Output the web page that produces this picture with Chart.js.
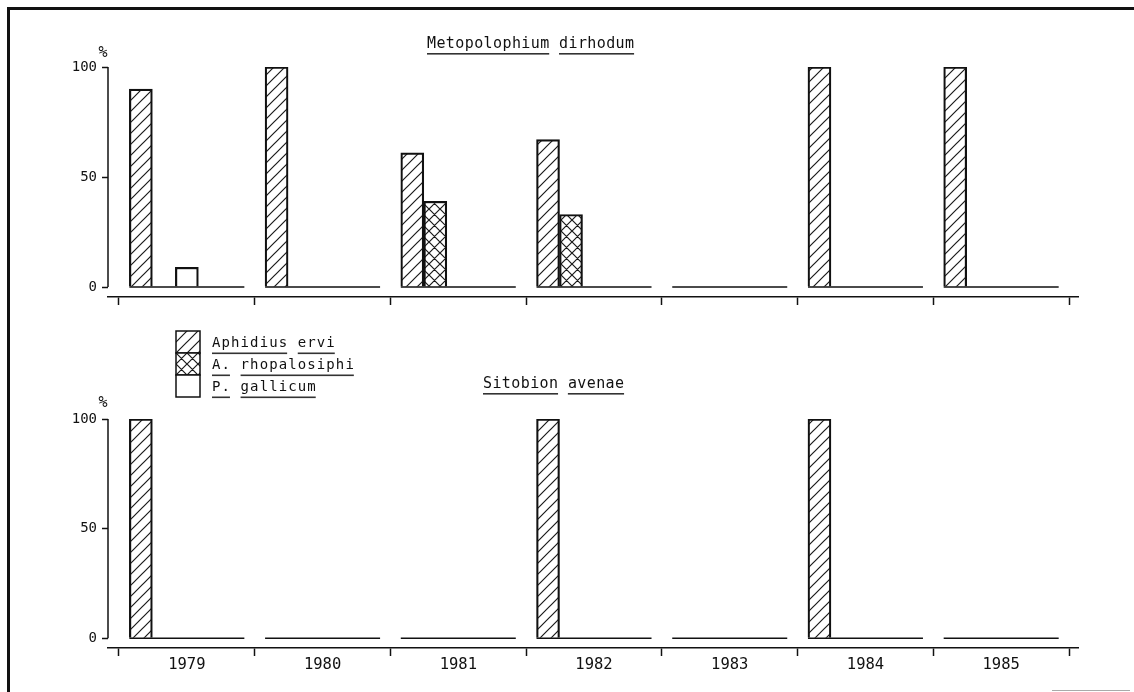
<!DOCTYPE html>
<html>
<head>
<meta charset="utf-8">
<script src="https://cdn.jsdelivr.net/npm/chart.js@4.4.1/dist/chart.umd.min.js"></script>
<style>
  html, body { margin: 0; padding: 0; background: #fff; }
  #page { position: relative; width: 1134px; height: 692px; overflow: hidden; background: #fff; }
  #frame { position: absolute; left: 7px; top: 7px; width: 1200px; height: 760px;
           border-top: 3px solid #111; border-left: 3px solid #111; }
  #edge { position: absolute; left: 1052px; top: 690px; width: 78px; height: 1px; background: #aaa; }
  canvas { position: absolute; left: 0; }
  #cTop { top: 0; }
  #cBottom { top: 320px; }
</style>
</head>
<body>
<div id="page">
  <div id="frame"></div>
  <div id="edge"></div>
  <canvas id="cTop" width="1134" height="320"></canvas>
  <canvas id="cBottom" width="1134" height="372"></canvas>
</div>
<script>
// Years sampled and the three parasitoid species
const years = ['1979', '1980', '1981', '1982', '1983', '1984', '1985'];
const parasitoids = ['Aphidius ervi', 'A. rhopalosiphi', 'P. gallicum'];
const panelTitles = ['Metopolophium dirhodum', 'Sitobion avenae'];
const yTicks = [0, 50, 100];

// Share (%) of each parasitoid reared from Metopolophium dirhodum
const dirhodumErvi         = [90, 100, 61, 67, 0, 100, 100];
const dirhodumRhopalosiphi = [0, 0, 39, 33, 0, 0, 0];
const dirhodumGallicum     = [9, 0, 0, 0, 0, 0, 0];

// Share (%) of each parasitoid reared from Sitobion avenae
const avenaeErvi         = [100, 0, 0, 100, 0, 100, 0];
const avenaeRhopalosiphi = [0, 0, 0, 0, 0, 0, 0];
const avenaeGallicum     = [0, 0, 0, 0, 0, 0, 0];

const INK = '#111';
const MONO = '"DejaVu Sans Mono", "Liberation Mono", monospace';

// Fill patterns: single diagonal hatch and cross hatch
function makePattern(ctx, cross) {
  const s = 11;
  const tile = document.createElement('canvas');
  tile.width = s; tile.height = s;
  const g = tile.getContext('2d');
  g.fillStyle = '#fff';
  g.fillRect(0, 0, s, s);
  g.strokeStyle = '#1a1a1a';
  g.lineWidth = 1.2;
  g.beginPath();
  g.moveTo(-1, s + 1); g.lineTo(s + 1, -1);
  g.moveTo(-1, 1); g.lineTo(1, -1);
  g.moveTo(s - 1, s + 1); g.lineTo(s + 1, s - 1);
  if (cross) {
    g.moveTo(-1, -1); g.lineTo(s + 1, s + 1);
    g.moveTo(s - 1, -1); g.lineTo(s + 1, 1);
    g.moveTo(-1, s - 1); g.lineTo(1, s + 1);
  }
  g.stroke();
  return ctx.createPattern(tile, 'repeat');
}

function underlinedText(ctx, text, x, baseline, font, spacing, gap) {
  ctx.font = font;
  ctx.letterSpacing = spacing + 'px';
  ctx.textAlign = 'left';
  ctx.textBaseline = 'alphabetic';
  ctx.fillStyle = INK;
  const space = ctx.measureText(' ').width;
  for (const word of text.split(' ')) {
    const w = ctx.measureText(word).width;
    ctx.fillText(word, x, baseline);
    ctx.fillStyle = '#333';
    ctx.fillRect(x, baseline + gap, w - spacing, 1.6);
    ctx.fillStyle = INK;
    x += w + space;
  }
  ctx.letterSpacing = '0px';
}

// Axis line, per-year baselines, titles and key
const panelDecor = {
  id: 'panelDecor',
  afterDatasetsDraw(chart, args, opts) {
    const { ctx, chartArea } = chart;
    const y = chart.scales.y;
    const y0 = y.getPixelForValue(0);
    const yTop = y.getPixelForValue(yTicks[yTicks.length - 1]);
    ctx.save();
    ctx.strokeStyle = INK;
    ctx.lineWidth = 1.5;

    // value axis only spans 0..100
    ctx.beginPath();
    ctx.moveTo(chartArea.left, yTop);
    ctx.lineTo(chartArea.left, y0);
    ctx.stroke();

    // baseline under each year's group of bars
    const first = chart.getDatasetMeta(0).data;
    const last = chart.getDatasetMeta(chart.data.datasets.length - 1).data;
    ctx.beginPath();
    for (let i = 0; i < years.length; i++) {
      const a = first[i], b = last[i];
      ctx.moveTo(a.x - a.width / 2, y0);
      ctx.lineTo(b.x + b.width / 2, y0);
    }
    ctx.stroke();

    // percent sign above the value axis
    ctx.font = '15px ' + MONO;
    ctx.fillStyle = INK;
    ctx.textAlign = 'center';
    ctx.textBaseline = 'middle';
    ctx.fillText('%', chartArea.left - 5, yTop - opts.pctGap);

    underlinedText(ctx, opts.title, opts.titleX, opts.titleY, '15px ' + MONO, 0.4, 5);

    if (opts.key) {
      const bx = 176, bw = 24, bh = 22, top = opts.keyTop;
      for (let k = 0; k < parasitoids.length; k++) {
        const ds = chart.data.datasets[k];
        const by = top + k * bh;
        ctx.fillStyle = ds.backgroundColor;
        ctx.fillRect(bx, by, bw, bh);
        ctx.strokeStyle = INK;
        ctx.lineWidth = 1.5;
        ctx.strokeRect(bx, by, bw, bh);
        underlinedText(ctx, parasitoids[k], 212, by + 11 + 4.5, '14px ' + MONO, 1.1, 6);
      }
    }
    ctx.restore();
  }
};

function buildChart(canvasId, series, cfg) {
  const canvas = document.getElementById(canvasId);
  const ctx = canvas.getContext('2d');
  const fills = [makePattern(ctx, false), makePattern(ctx, true), '#fff'];
  const datasets = series.map((vals, k) => ({
    label: parasitoids[k],
    data: vals.map((v, i) => ({ x: i, y: v })),
    backgroundColor: fills[k],
    borderColor: INK,
    borderWidth: 2.2,
    borderSkipped: 'start'
  }));
  // two empty slots keep each year's group left-aligned with room to the right
  for (let s = 0; s < 2; s++) {
    datasets.push({
      label: 'slot' + s,
      data: years.map((_, i) => ({ x: i, y: null })),
      backgroundColor: 'rgba(0,0,0,0)',
      borderWidth: 0
    });
  }

  const boundaryTicks = [];
  for (let i = 0; i <= years.length; i++) boundaryTicks.push(i - 0.5);
  const centerTicks = years.map((_, i) => i);

  return new Chart(ctx, {
    type: 'bar',
    data: { datasets },
    plugins: [panelDecor],
    options: {
      responsive: false,
      animation: false,
      devicePixelRatio: 1,
      barThickness: 23,
      layout: { padding: { top: cfg.padTop, right: 56, left: 0, bottom: 0 } },
      plugins: {
        legend: { display: false },
        tooltip: { enabled: false },
        panelDecor: cfg.decor
      },
      scales: {
        x: {
          type: 'linear',
          offset: false,
          min: -0.5 - 0.081,
          max: years.length - 0.5 + 0.066,
          afterBuildTicks: (s) => {
            s.ticks = boundaryTicks.concat(centerTicks).sort((a, b) => a - b).map(v => ({ value: v }));
          },
          afterFit: (s) => { s.height = cfg.xHeight; },
          ticks: {
            display: cfg.showYears,
            autoSkip: false,
            maxRotation: 0,
            padding: 0,
            color: INK,
            font: { family: MONO, size: 15.5 },
            callback: (v) => Number.isInteger(v) ? years[v] : ''
          },
          grid: {
            offset: false,
            drawOnChartArea: false,
            drawTicks: true,
            tickLength: 8,
            tickWidth: 1.5,
            tickColor: (c) => (c.tick && Number.isInteger(c.tick.value)) ? 'rgba(0,0,0,0)' : INK
          },
          border: { display: true, color: INK, width: 1.5 }
        },
        y: {
          min: -4.5,
          max: 100,
          afterBuildTicks: (s) => { s.ticks = yTicks.map(v => ({ value: v })); },
          afterFit: (s) => { s.width = 108; },
          ticks: { color: INK, padding: 5, font: { family: MONO, size: 14 } },
          grid: { drawOnChartArea: false, drawTicks: true, tickLength: 6, tickWidth: 1.5, tickColor: INK },
          border: { display: false }
        }
      }
    }
  });
}

buildChart('cTop', [dirhodumErvi, dirhodumRhopalosiphi, dirhodumGallicum], {
  padTop: 67, xHeight: 23, showYears: false,
  decor: { title: panelTitles[0], titleX: 427, titleY: 48, pctGap: 14, key: false }
});

buildChart('cBottom', [avenaeErvi, avenaeRhopalosiphi, avenaeGallicum], {
  padTop: 99, xHeight: 44, showYears: true,
  decor: { title: panelTitles[1], titleX: 483, titleY: 68, pctGap: 16, key: true, keyTop: 11 }
});
</script>
</body>
</html>
